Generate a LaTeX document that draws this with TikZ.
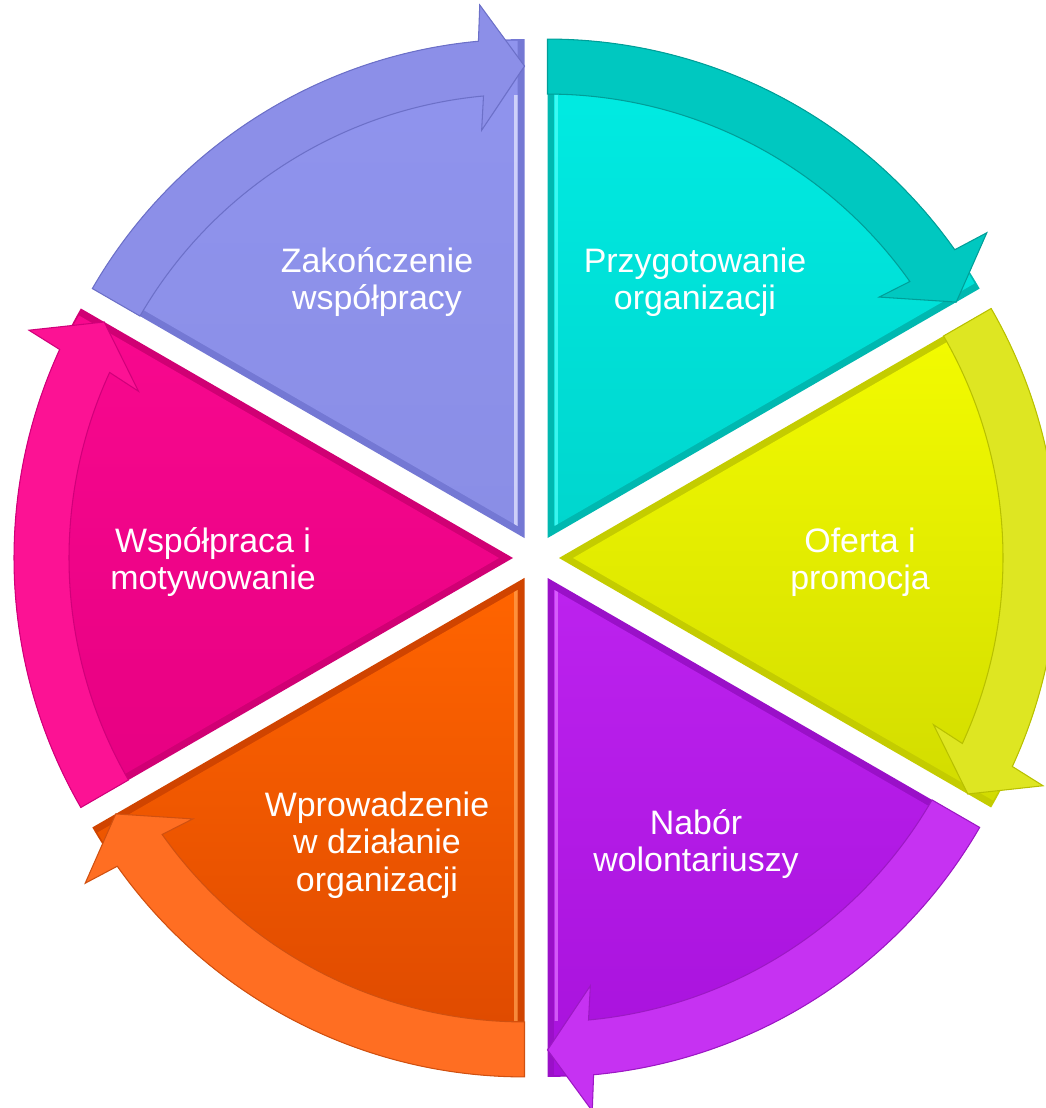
\documentclass[tikz,border=0pt]{standalone}
\usepackage{fontspec}
\setmainfont{Liberation Sans}
\usetikzlibrary{calc}
% wedge top / bottom / bevel / band / band line
\definecolor{tealT}{HTML}{00EDE4}\definecolor{tealB}{HTML}{00D6CE}\definecolor{tealV}{HTML}{00B8B0}\definecolor{tealA}{HTML}{00C8C0}\definecolor{tealL}{HTML}{009E98}
\definecolor{yelT}{HTML}{F4FC00}\definecolor{yelB}{HTML}{D2DC00}\definecolor{yelV}{HTML}{C4CC00}\definecolor{yelA}{HTML}{DEE622}\definecolor{yelL}{HTML}{B8C000}
\definecolor{purT}{HTML}{BC22EE}\definecolor{purB}{HTML}{A812DC}\definecolor{purV}{HTML}{9A10C8}\definecolor{purA}{HTML}{C632F2}\definecolor{purL}{HTML}{9C18C4}
\definecolor{oraT}{HTML}{FF6400}\definecolor{oraB}{HTML}{DC4800}\definecolor{oraV}{HTML}{D04400}\definecolor{oraA}{HTML}{FF6E22}\definecolor{oraL}{HTML}{D05010}
\definecolor{pnkT}{HTML}{F8088E}\definecolor{pnkB}{HTML}{E60082}\definecolor{pnkV}{HTML}{D00074}\definecolor{pnkA}{HTML}{FC1294}\definecolor{pnkL}{HTML}{D0007A}
\definecolor{lavT}{HTML}{9094EE}\definecolor{lavB}{HTML}{8A8EE6}\definecolor{lavV}{HTML}{7478D4}\definecolor{lavA}{HTML}{8C8FE8}\definecolor{lavL}{HTML}{6C70C8}
\definecolor{tealH}{HTML}{50FFF8}\definecolor{purH}{HTML}{E070FF}\definecolor{oraH}{HTML}{FFA050}\definecolor{lavH}{HTML}{E4E6FF}
\tikzset{
  label text/.style={text=white, align=center, inner sep=0pt,
    font=\fontsize{19.3}{21.3}\selectfont},
  band line/.style={line width=0.6pt, line join=miter},
  edge glow/.style={line width=2.6pt, opacity=0.75}
}
\newcommand\cycseg[6]{%
  \pgfmathsetmacro\aA{90-60*#1}%
  \pgfmathsetmacro\aB{30-60*#1}%
  \pgfmathsetmacro\aM{60-60*#1}%
  \pgfmathsetmacro\aH{\aB+5.3}%
  \pgfmathsetmacro\aO{\aB+4.8}%
  \pgfmathsetmacro\aI{\aB+6.0}%
  \begin{scope}[shift={($(C)+(\aM:23)$)}]
    \fill[#4] (0,0) -- (\aA:499) arc[start angle=\aA, end angle=\aB, radius=499] -- cycle;
    \shade[top color=#2, bottom color=#3] (\aM:14) -- ++(\aA:485) arc[start angle=\aA, end angle=\aB, radius=485] -- cycle;
    \filldraw[fill=#5, draw=#6, band line] (\aA:499) arc[start angle=\aA, end angle=\aH, radius=499]
      -- (\aO:535) -- (\aB:472) -- (\aI:410) -- (\aH:444)
      arc[start angle=\aH, end angle=\aA, radius=444] -- cycle;
  \end{scope}}
% #1 segment, #2 edge angle, #3 inward angle, #4 colour
\newcommand\cycglow[4]{%
  \pgfmathsetmacro\aA{90-60*#1}%
  \pgfmathsetmacro\aB{30-60*#1}%
  \pgfmathsetmacro\aM{60-60*#1}%
  \begin{scope}[shift={($(C)+(\aM:23)$)}]
    \clip (\aM:14) -- ++(\aA:485) arc[start angle=\aA, end angle=\aB, radius=485] -- cycle;
    \draw[#4, edge glow] ($(#2:0)+(#3:8)$) -- ($(#2:443)+(#3:8)$);
  \end{scope}}
\begin{document}
\begin{tikzpicture}[x=0.02cm, y=0.02cm]
\useasboundingbox (0,0) rectangle (1045,1108);
\coordinate (C) at (536,550);
\cycseg{0}{tealT}{tealB}{tealV}{tealA}{tealL}
\cycseg{1}{yelT}{yelB}{yelV}{yelA}{yelL}
\cycseg{2}{purT}{purB}{purV}{purA}{purL}
\cycseg{3}{oraT}{oraB}{oraV}{oraA}{oraL}
\cycseg{4}{pnkT}{pnkB}{pnkV}{pnkA}{pnkL}
\cycseg{5}{lavT}{lavB}{lavV}{lavA}{lavL}
\cycglow{0}{90}{0}{tealH}
\cycglow{2}{-90}{0}{purH}
\cycglow{3}{-90}{180}{oraH}
\cycglow{5}{90}{180}{lavH}
\node[label text] (przyg) at (695,826) {Przygotowanie\\organizacji};
\node[label text] (oferta) at (860,546) {Oferta i\\promocja};
\node[label text] (nabor) at (696,264) {Nabór\\wolontariuszy};
\node[label text] (wprow) at (377,263) {Wprowadzenie\\w działanie\\organizacji};
\node[label text] (wspol) at (213,546) {Współpraca i\\motywowanie};
\node[label text] (zakon) at (377,826) {Zakończenie\\współpracy};
\end{tikzpicture}
\end{document}
